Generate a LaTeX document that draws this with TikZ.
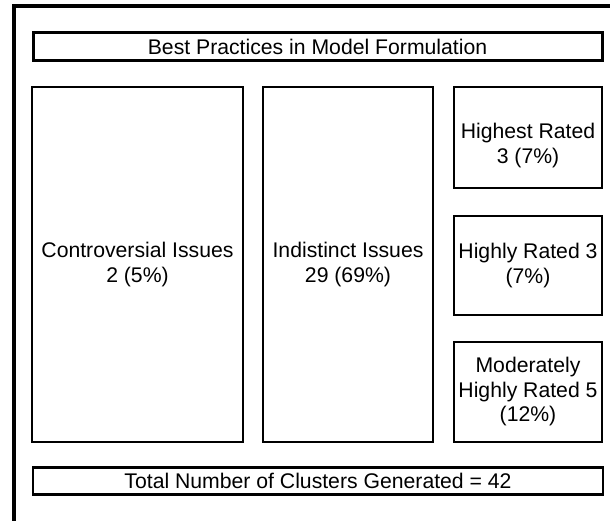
\documentclass[tikz,border=0pt]{standalone}
\usepackage{fontspec}
\setmainfont{Liberation Sans}
\begin{document}
\begin{tikzpicture}[x=1pt,y=-1pt,
  txt/.style={align=center,inner sep=0pt,font=\fontsize{21.2}{24.5}\selectfont},
  cell/.style={txt,draw=black,line width=2.2pt,fill=white},
  framebox/.style={txt,draw=black,line width=3pt}]
\useasboundingbox (0,0) rectangle (610,521);
\draw[line width=4pt] (14,530) -- (14,6) -- (620,6);
\node[framebox,minimum width=569pt,minimum height=28pt] (title) at (317.5,47) {Best Practices in Model Formulation};
\node[cell,minimum width=211pt,minimum height=355pt] (contro) at (137.5,264.5) {Controversial Issues\\2 (5\%)};
\node[cell,minimum width=170pt,minimum height=355pt] (indist) at (348,264.5) {Indistinct Issues\\29 (69\%)};
\node[cell,minimum width=148pt,minimum height=101pt] (highest) at (528,137.5) {};
\node[txt] (highesttext) at ([yshift=-8pt]highest.center) {Highest Rated\\3 (7\%)};
\node[cell,minimum width=148pt,minimum height=99pt] (highly) at (528,265.5) {Highly Rated 3\\(7\%)};
\node[cell,minimum width=148pt,minimum height=100pt] (moder) at (528,392) {Moderately\\Highly Rated 5\\(12\%)};
\node[framebox,line width=2.5pt,minimum width=570pt,minimum height=27pt] (total) at (318,481) {Total Number of Clusters Generated = 42};
\end{tikzpicture}
\end{document}
